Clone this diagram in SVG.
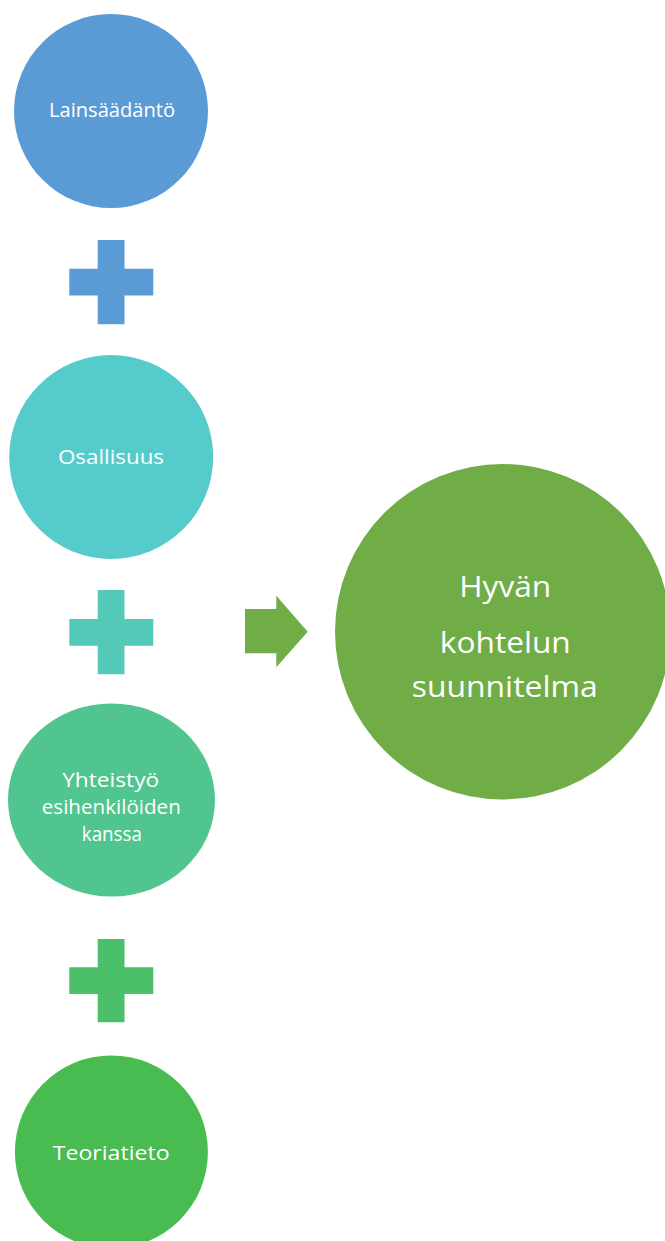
<svg xmlns="http://www.w3.org/2000/svg" width="665" height="1241" viewBox="0 0 665 1241">
<style>
.t{font-family:"Open Sans","Noto Sans","Liberation Sans",sans-serif;fill:#FFFFFF;text-anchor:middle}
.s{font-size:20px}
.b{font-size:28.5px}
</style>
<rect width="665" height="1241" fill="#FFFFFF"/>
<g id="node-lainsaadanto">
<circle cx="111" cy="111" r="97" fill="#5B9BD5"/>
<text class="t s" x="112" y="117" textLength="126" lengthAdjust="spacingAndGlyphs">Lainsäädäntö</text>
</g>
<g id="plus-1">
<path d="M97.7 240H124.5V268.7H153.3V295.5H124.5V324.3H97.7V295.5H69.3V268.7H97.7Z" fill="#5B9BD5"/>
</g>
<g id="node-osallisuus">
<circle cx="111.2" cy="457" r="102" fill="#56CBCC"/>
<text class="t s" x="111" y="464" textLength="106" lengthAdjust="spacingAndGlyphs">Osallisuus</text>
</g>
<g id="plus-2">
<path d="M97.7 590H124.5V619H153.3V645.7H124.5V674.3H97.7V645.7H69.3V619H97.7Z" fill="#55C9B8"/>
</g>
<g id="node-yhteistyo">
<ellipse cx="111.5" cy="800" rx="103.5" ry="96.5" fill="#50C58F"/>
<text class="t s" x="110.7" y="787" textLength="97" lengthAdjust="spacingAndGlyphs">Yhteistyö</text>
<text class="t s" x="111.3" y="814" textLength="139" lengthAdjust="spacingAndGlyphs">esihenkilöiden</text>
<text class="t s" x="111.8" y="841" textLength="60" lengthAdjust="spacingAndGlyphs">kanssa</text>
</g>
<g id="plus-3">
<path d="M97.7 939H124.5V967.3H153.3V994H124.5V1022.3H97.7V994H69.3V967.3H97.7Z" fill="#4BBF69"/>
</g>
<g id="node-teoriatieto">
<circle cx="111.4" cy="1152" r="96.5" fill="#48BB51"/>
<text class="t s" x="111.2" y="1159.5" textLength="117" lengthAdjust="spacingAndGlyphs">Teoriatieto</text>
</g>
<g id="connectors">
<path d="M245 609H276.3V595.7L307.7 631.7L276.3 667.3V653.3H245Z" fill="#70AD47"/>
</g>
<g id="node-hyvan">
<circle cx="502.7" cy="631.7" r="167.7" fill="#70AD47"/>
<text class="t b" x="505.2" y="597.3" textLength="92" lengthAdjust="spacingAndGlyphs">Hyvän</text>
<text class="t b" x="505.3" y="652.7" textLength="131" lengthAdjust="spacingAndGlyphs">kohtelun</text>
<text class="t b" x="504.7" y="697.3" textLength="186" lengthAdjust="spacingAndGlyphs">suunnitelma</text>
</g>
</svg>
